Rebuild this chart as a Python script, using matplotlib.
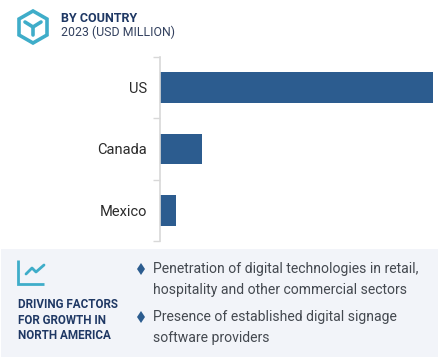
import matplotlib
matplotlib.use('Agg')
import matplotlib.pyplot as plt
from matplotlib.patches import Polygon, Rectangle

W, H = 439, 360

countries = ['US', 'Canada', 'Mexico']
values = [274, 42, 16.5]
bullets = [
    'Penetration of digital technologies in retail,\nhospitality and other commercial sectors',
    'Presence of established digital signage\nsoftware providers',
]
NAVY = '#1f3864'
TEAL = '#3fadc9'
BAR = '#2c5c8f'
GREY_TEXT = '#444950'

plt.rcParams['font.family'] = ['Roboto', 'DejaVu Sans']

fig = plt.figure(figsize=(W / 100, H / 100), dpi=100)

# full-figure overlay in pixel coordinates, y pointing down
bg = fig.add_axes([0, 0, 1, 1])
bg.set_xlim(0, W)
bg.set_ylim(H, 0)
bg.axis('off')

# header icon
hexagon = [(33, 11), (47, 19), (47, 35), (33, 43), (19, 35), (19, 19)]
bg.add_patch(Polygon(hexagon, closed=True, fill=False, ec=TEAL, lw=2.6, joinstyle='miter'))
bg.plot([25, 33, 41], [22, 27, 22], color=TEAL, lw=2.6, solid_capstyle='round')
bg.plot([33, 33], [27, 35], color=TEAL, lw=2.6, solid_capstyle='round')

bg.text(61, 18.5, 'BY COUNTRY', fontsize=9, fontweight='bold', color=NAVY, va='center')
bg.text(61, 32.5, '2023 (USD MILLION)', fontsize=8.9, color='#33415f', va='center')

# bottom panel
bg.add_patch(Rectangle((1, 249), 438, 108, fc='#f2f4f9', ec='none'))
bg.plot([18, 18, 44], [260, 284, 284], color=TEAL, lw=2, solid_capstyle='butt', solid_joinstyle='miter')
bg.plot([26, 32, 36, 44], [274, 268, 272, 265], color=TEAL, lw=2, solid_capstyle='round')

for y, line in zip([305, 320, 335.5], ['DRIVING FACTORS', 'FOR GROWTH IN', 'NORTH AMERICA']):
    bg.text(18, y, line, fontsize=8.35, fontweight='bold', color=NAVY, va='center')

for y, txt in zip([269, 317], bullets):
    bg.plot(141.5, y, marker='d', ms=6, color=BAR, mew=0)
    bg.text(153, y + 10.5, txt, fontsize=10.1, color=GREY_TEXT, va='center', linespacing=1.55)

# bar chart, one unit is one pixel wide
ax = fig.add_axes([159.5 / W, 1 - 241 / H, 279.5 / W, 184 / H])
ypos = range(len(countries))
ax.barh(list(ypos), values, height=0.5, color=BAR)
ax.set_xlim(0, 279.5)
ax.set_ylim(2.5, -0.5)
ax.set_yticks([-0.5, 0.5, 1.5, 2.5])
ax.set_yticklabels([])
ax.set_yticks(list(ypos), minor=True)
ax.set_yticklabels(countries, minor=True, fontsize=10.5, color='#2b2b2b', va='center_baseline')
ax.tick_params(axis='y', which='major', length=5, color='#d8d8d8', width=1)
ax.tick_params(axis='y', which='minor', length=0, pad=9)
ax.xaxis.set_visible(False)
for side in ['top', 'right', 'bottom']:
    ax.spines[side].set_visible(False)
ax.spines['left'].set_color('#d8d8d8')
ax.spines['left'].set_linewidth(1.2)

fig.savefig('out.png', dpi=100)
